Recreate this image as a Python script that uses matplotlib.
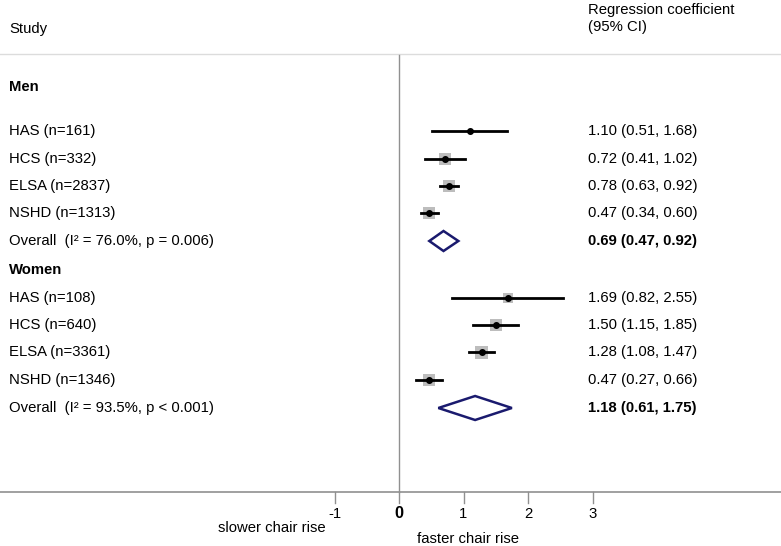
import matplotlib.pyplot as plt
from matplotlib.patches import Polygon, Rectangle

plt.rcParams["font.family"] = ["Liberation Sans", "DejaVu Sans"]

# data
men_labels = ["HAS (n=161)", "HCS (n=332)", "ELSA (n=2837)", "NSHD (n=1313)"]
men_est = [1.10, 0.72, 0.78, 0.47]
men_lo = [0.51, 0.41, 0.63, 0.34]
men_hi = [1.68, 1.02, 0.92, 0.60]
men_wt = [0, 12, 12, 12]
men_overall = (0.69, 0.47, 0.92)
men_overall_txt = "Overall  (I² = 76.0%, p = 0.006)"

women_labels = ["HAS (n=108)", "HCS (n=640)", "ELSA (n=3361)", "NSHD (n=1346)"]
women_est = [1.69, 1.50, 1.28, 0.47]
women_lo = [0.82, 1.15, 1.08, 0.27]
women_hi = [2.55, 1.85, 1.47, 0.66]
women_wt = [10, 12, 13, 12]
women_overall = (1.18, 0.61, 1.75)
women_overall_txt = "Overall  (I² = 93.5%, p < 0.001)"

xticks = [-1, 0, 1, 2, 3]

# layout (pixels)
W, H = 781, 546
x0_px, unit_px = 399, 64.5
fs = 10.7

fig = plt.figure(figsize=(W / 100, H / 100), dpi=100)
ax = fig.add_axes([0, 0, 1, 1])
ax.set_xlim(-x0_px / unit_px, (W - x0_px) / unit_px)
ax.set_ylim(H, 0)
ax.axis("off")

px = 1 / unit_px  # one pixel in data units
xmin = ax.get_xlim()[0]
left_x = 9 * px + xmin
right_x = 588 * px + xmin

# header
ax.text(left_x, 29, "Study", fontsize=fs, va="center")
ax.text(right_x, 10, "Regression coefficient", fontsize=fs, va="center")
ax.text(right_x, 27, "(95% CI)", fontsize=fs, va="center")
ax.axhline(54, color="#dcdcdc", lw=1)

# reference line and axis
ax.plot([0, 0], [55, 492], color="#909090", lw=1)
ax.axhline(492, color="#909090", lw=1.2)
for t in xticks:
    ax.plot([t, t], [492, 503], color="#909090", lw=1)
    ax.text(t, 514, str(t), ha="center", va="center", fontsize=fs + (1 if t == 0 else 0),
            fontweight="bold" if t == 0 else "normal")
ax.text(272 * px + xmin, 528, "slower chair rise", ha="center", va="center", fontsize=fs)
ax.text(468 * px + xmin, 539, "faster chair rise", ha="center", va="center", fontsize=fs)


def draw_group(title, ty, rows_y, labels, est, lo, hi, wt, overall, overall_txt, oy, dh):
    ax.text(left_x, ty, title, fontsize=fs, fontweight="bold", va="center")
    for y, lab, e, l, h, w in zip(rows_y, labels, est, lo, hi, wt):
        ax.text(left_x, y, lab, fontsize=fs, va="center")
        if w > 0:
            ax.add_patch(Rectangle((e - w / 2 * px, y - w / 2), w * px, w,
                                   facecolor="#bdbdbd", edgecolor="none", zorder=2))
        ax.plot([l, h], [y, y], color="black", lw=2, zorder=3)
        ax.plot(e, y, "o", color="black", ms=4, zorder=4)
        ax.text(right_x, y, f"{e:.2f} ({l:.2f}, {h:.2f})", fontsize=fs, va="center")
    e, l, h = overall
    ax.add_patch(Polygon([(l, oy), (e, oy - dh / 2), (h, oy), (e, oy + dh / 2)],
                         closed=True, facecolor="white", edgecolor="#1a1a6e", lw=1.8, zorder=3))
    ax.text(left_x, oy, overall_txt, fontsize=fs, va="center")
    ax.text(right_x, oy, f"{e:.2f} ({l:.2f}, {h:.2f})", fontsize=fs, va="center", fontweight="bold")


draw_group("Men", 87, [131, 159, 186, 213], men_labels, men_est, men_lo, men_hi, men_wt,
           men_overall, men_overall_txt, 241, 20)
draw_group("Women", 270, [298, 325, 352, 380], women_labels, women_est, women_lo, women_hi, women_wt,
           women_overall, women_overall_txt, 408, 24)

fig.savefig("out.png", dpi=100)
